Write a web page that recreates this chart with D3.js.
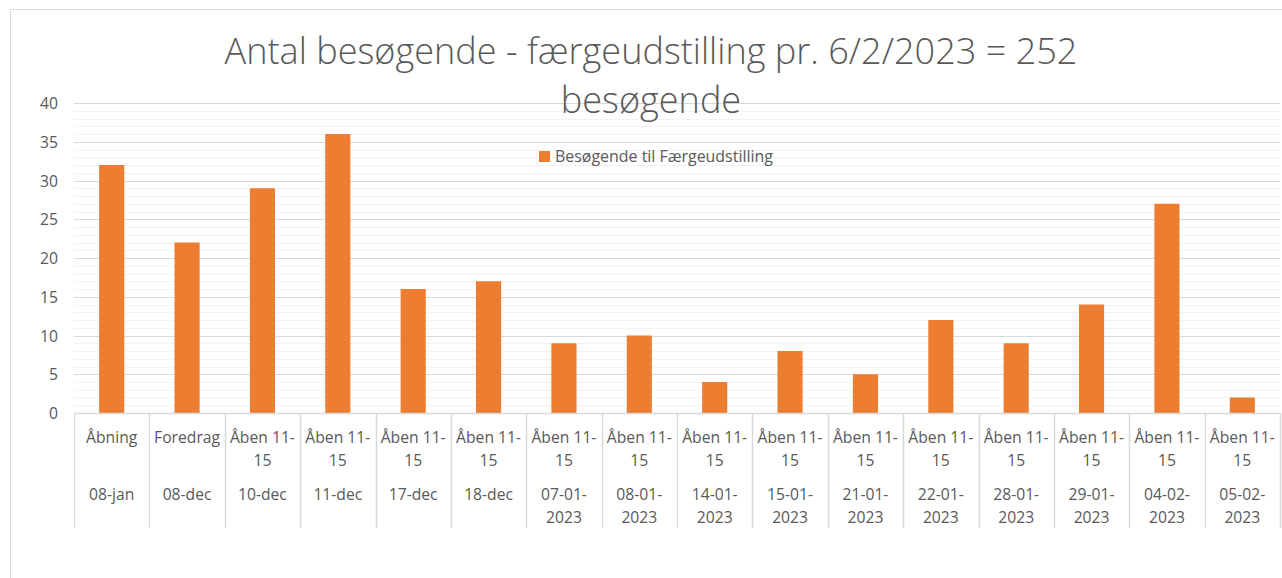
<!DOCTYPE html>
<html><head><meta charset="utf-8">
<script src="https://cdn.jsdelivr.net/npm/d3@7"></script>
<style>html,body{margin:0;padding:0;background:#fff;}svg{display:block;}</style>
</head><body>
<script>
const titleLines = ["Antal besøgende - færgeudstilling pr. 6/2/2023 = 252", "besøgende"];
const seriesName = "Besøgende til Færgeudstilling";
const level1 = ["Åbning","Foredrag","Åben 11-15","Åben 11-15","Åben 11-15","Åben 11-15","Åben 11-15","Åben 11-15","Åben 11-15","Åben 11-15","Åben 11-15","Åben 11-15","Åben 11-15","Åben 11-15","Åben 11-15","Åben 11-15"];
const level2 = ["08-jan","08-dec","10-dec","11-dec","17-dec","18-dec","07-01-2023","08-01-2023","14-01-2023","15-01-2023","21-01-2023","22-01-2023","28-01-2023","29-01-2023","04-02-2023","05-02-2023"];
const values = [32,22,29,36,16,17,9,10,4,8,5,12,9,14,27,2];
const yTicks = [0,5,10,15,20,25,30,35,40];
const yMinor = d3.range(0,41,1);

const W = 1282, H = 578;
const FONT = "'Open Sans', sans-serif";
const svg = d3.select("body").append("svg").attr("width", W).attr("height", H);

// helper to fit font size to a target width
const meas = svg.append("text").attr("font-family", FONT).attr("x", -1000).attr("y", -1000);
function fit(text, weight, target) {
  meas.attr("font-weight", weight).attr("font-size", 100).text(text);
  const w = meas.node().getComputedTextLength();
  return 100 * target / w;
}
function width(text, weight, size) {
  meas.attr("font-weight", weight).attr("font-size", size).text(text);
  return meas.node().getComputedTextLength();
}

// chart border
svg.append("rect").attr("x", 10.5).attr("y", 9.5).attr("width", W + 20).attr("height", H + 20)
  .attr("fill", "none").attr("stroke", "#d9d9d9").attr("stroke-width", 1);

const plot = {left: 74, right: 1280, top: 103, bottom: 413};
const x = d3.scaleBand().domain(d3.range(values.length)).range([plot.left, plot.right]).padding(0);
const y = d3.scaleLinear().domain([0, 40]).range([plot.bottom, plot.top]);

// minor gridlines
svg.append("g").selectAll("line").data(yMinor.filter(v => v % 5 !== 0)).join("line")
  .attr("x1", plot.left).attr("x2", plot.right)
  .attr("y1", d => Math.round(y(d)) + 0.5).attr("y2", d => Math.round(y(d)) + 0.5)
  .attr("stroke", "#f2f2f2").attr("stroke-width", 1);
// major gridlines
svg.append("g").selectAll("line").data(yTicks.filter(v => v > 0)).join("line")
  .attr("x1", plot.left).attr("x2", plot.right)
  .attr("y1", d => Math.round(y(d)) + 0.5).attr("y2", d => Math.round(y(d)) + 0.5)
  .attr("stroke", "#d9d9d9").attr("stroke-width", 1);

// y axis labels
const tickSize = fit("Foredrag", 400, 66);
const yAxis = d3.axisLeft(y).tickValues(yTicks).tickSize(0).tickPadding(0);
const gy = svg.append("g").attr("transform", `translate(58,0)`).call(yAxis);
gy.select(".domain").remove();
gy.selectAll("text").attr("font-family", FONT).attr("font-size", tickSize).attr("fill", "#595959").attr("dy", "0.35em");

// bars
const bw = x.bandwidth() / 3;
svg.append("g").selectAll("rect").data(values).join("rect")
  .attr("x", (d, i) => x(i) + (x.bandwidth() - bw) / 2)
  .attr("y", d => y(d))
  .attr("width", bw)
  .attr("height", d => y(0) - y(d))
  .attr("fill", "#ED7D31");

// category axis line and dividers
svg.append("line").attr("x1", plot.left).attr("x2", plot.right)
  .attr("y1", plot.bottom + 0.5).attr("y2", plot.bottom + 0.5).attr("stroke", "#d9d9d9").attr("stroke-width", 1.5);
const bounds = d3.range(values.length + 1).map(i => i < values.length ? x(i) : plot.right);
svg.append("g").selectAll("line").data(bounds).join("line")
  .attr("x1", d => Math.round(d) + 0.5).attr("x2", d => Math.round(d) + 0.5)
  .attr("y1", plot.bottom).attr("y2", 528)
  .attr("stroke", "#d9d9d9").attr("stroke-width", 1.5);

// wrap helper
function wrap(label, size, maxW) {
  const tokens = label.match(/[^\s-]+[\s-]?/g) || [label];
  const lines = []; let cur = "";
  tokens.forEach(t => {
    const test = cur + t;
    if (cur && width(test.trim(), 400, size) > maxW) { lines.push(cur.trim()); cur = t; }
    else cur = test;
  });
  if (cur) lines.push(cur.trim());
  return lines;
}

const lvl1Base = 443, lvl2Base = 500, lineH = 23;
function drawLevel(labels, base) {
  const g = svg.append("g");
  labels.forEach((lab, i) => {
    const lines = wrap(lab, tickSize, x.bandwidth() - 4);
    const t = g.append("text").attr("font-family", FONT).attr("font-size", tickSize)
      .attr("fill", "#595959").attr("text-anchor", "middle");
    lines.forEach((ln, k) => {
      t.append("tspan").attr("x", x(i) + x.bandwidth() / 2).attr("y", base + k * lineH).text(ln);
    });
  });
}
drawLevel(level1, lvl1Base);
drawLevel(level2, lvl2Base);

// title
const titleSize = fit(titleLines[0], 300, 853);
svg.append("g").selectAll("text").data(titleLines).join("text")
  .attr("x", 651).attr("y", (d, i) => 64 + i * 49)
  .attr("text-anchor", "middle").attr("font-family", FONT).attr("font-weight", 300)
  .attr("font-size", titleSize).attr("fill", "#595959").text(d => d);

// legend
const legSize = fit(seriesName, 400, 218);
const leg = svg.append("g");
leg.append("rect").attr("x", 539).attr("y", 151).attr("width", 11).attr("height", 11).attr("fill", "#ED7D31");
leg.append("text").attr("x", 555).attr("y", 162).attr("font-family", FONT).attr("font-size", legSize)
  .attr("fill", "#595959").text(seriesName);

meas.remove();
</script>
</body></html>
